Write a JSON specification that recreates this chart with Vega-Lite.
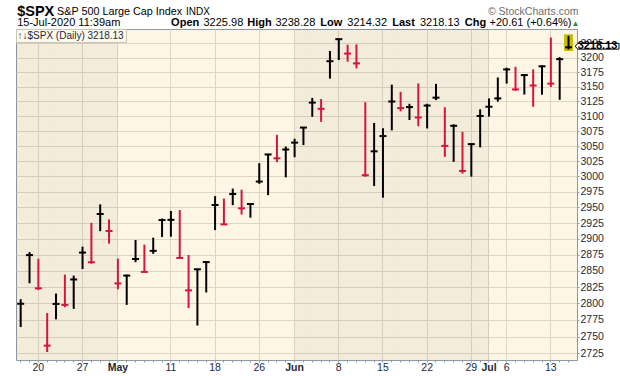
{
  "$schema": "https://vega.github.io/schema/vega-lite/v6.json",
  "width": 561,
  "height": 331,
  "autosize": {"type": "none"},
  "padding": {"left": 16, "top": 29, "right": 43, "bottom": 16},
  "background": "#ffffff",
  "config": {
    "view": {"fill": "#fdf6e4", "stroke": "#8c99a4", "strokeWidth": 1},
    "font": "Liberation Sans"
  },
  "data": {
    "values": [
      {"date": "2020-04-16", "month": "Apr", "high": 2806.51, "low": 2764.32, "close": 2799.55, "dir": "up"},
      {"date": "2020-04-17", "month": "Apr", "high": 2879.22, "low": 2830.88, "close": 2874.56, "dir": "up"},
      {"date": "2020-04-20", "month": "Apr", "high": 2868.98, "low": 2820.43, "close": 2823.16, "dir": "down"},
      {"date": "2020-04-21", "month": "Apr", "high": 2785.54, "low": 2727.10, "close": 2736.56, "dir": "down"},
      {"date": "2020-04-22", "month": "Apr", "high": 2815.10, "low": 2775.95, "close": 2799.31, "dir": "up"},
      {"date": "2020-04-23", "month": "Apr", "high": 2844.24, "low": 2794.26, "close": 2797.80, "dir": "down"},
      {"date": "2020-04-24", "month": "Apr", "high": 2842.71, "low": 2791.76, "close": 2836.74, "dir": "up"},
      {"date": "2020-04-27", "month": "Apr", "high": 2887.72, "low": 2852.89, "close": 2878.48, "dir": "up"},
      {"date": "2020-04-28", "month": "Apr", "high": 2925.39, "low": 2861.29, "close": 2863.39, "dir": "down"},
      {"date": "2020-04-29", "month": "Apr", "high": 2954.86, "low": 2912.16, "close": 2939.51, "dir": "up"},
      {"date": "2020-04-30", "month": "Apr", "high": 2930.91, "low": 2892.47, "close": 2912.43, "dir": "down"},
      {"date": "2020-05-01", "month": "May", "high": 2869.09, "low": 2821.61, "close": 2830.71, "dir": "down"},
      {"date": "2020-05-04", "month": "May", "high": 2844.24, "low": 2797.85, "close": 2842.74, "dir": "up"},
      {"date": "2020-05-05", "month": "May", "high": 2898.23, "low": 2863.55, "close": 2868.44, "dir": "up"},
      {"date": "2020-05-06", "month": "May", "high": 2891.11, "low": 2847.65, "close": 2848.42, "dir": "down"},
      {"date": "2020-05-07", "month": "May", "high": 2901.92, "low": 2876.48, "close": 2881.19, "dir": "up"},
      {"date": "2020-05-08", "month": "May", "high": 2932.16, "low": 2902.88, "close": 2929.80, "dir": "up"},
      {"date": "2020-05-11", "month": "May", "high": 2944.25, "low": 2903.44, "close": 2930.19, "dir": "up"},
      {"date": "2020-05-12", "month": "May", "high": 2945.82, "low": 2869.59, "close": 2870.12, "dir": "down"},
      {"date": "2020-05-13", "month": "May", "high": 2874.68, "low": 2793.15, "close": 2820.00, "dir": "down"},
      {"date": "2020-05-14", "month": "May", "high": 2852.80, "low": 2766.64, "close": 2852.50, "dir": "up"},
      {"date": "2020-05-15", "month": "May", "high": 2865.01, "low": 2816.78, "close": 2863.70, "dir": "up"},
      {"date": "2020-05-18", "month": "May", "high": 2968.09, "low": 2913.86, "close": 2953.91, "dir": "up"},
      {"date": "2020-05-19", "month": "May", "high": 2964.21, "low": 2922.35, "close": 2922.94, "dir": "down"},
      {"date": "2020-05-20", "month": "May", "high": 2980.29, "low": 2953.63, "close": 2971.61, "dir": "up"},
      {"date": "2020-05-21", "month": "May", "high": 2978.50, "low": 2938.57, "close": 2948.51, "dir": "down"},
      {"date": "2020-05-22", "month": "May", "high": 2956.76, "low": 2933.59, "close": 2955.45, "dir": "up"},
      {"date": "2020-05-26", "month": "May", "high": 3021.72, "low": 2988.17, "close": 2991.77, "dir": "up"},
      {"date": "2020-05-27", "month": "May", "high": 3036.25, "low": 2969.75, "close": 3036.13, "dir": "up"},
      {"date": "2020-05-28", "month": "May", "high": 3068.67, "low": 3023.40, "close": 3029.73, "dir": "down"},
      {"date": "2020-05-29", "month": "May", "high": 3049.17, "low": 2998.61, "close": 3044.31, "dir": "up"},
      {"date": "2020-06-01", "month": "Jun", "high": 3062.18, "low": 3031.54, "close": 3055.73, "dir": "up"},
      {"date": "2020-06-02", "month": "Jun", "high": 3081.07, "low": 3051.64, "close": 3080.82, "dir": "up"},
      {"date": "2020-06-03", "month": "Jun", "high": 3130.94, "low": 3098.90, "close": 3122.87, "dir": "up"},
      {"date": "2020-06-04", "month": "Jun", "high": 3128.91, "low": 3090.41, "close": 3112.35, "dir": "down"},
      {"date": "2020-06-05", "month": "Jun", "high": 3211.72, "low": 3163.84, "close": 3193.93, "dir": "up"},
      {"date": "2020-06-08", "month": "Jun", "high": 3233.13, "low": 3196.00, "close": 3232.39, "dir": "up"},
      {"date": "2020-06-09", "month": "Jun", "high": 3222.71, "low": 3193.11, "close": 3207.18, "dir": "down"},
      {"date": "2020-06-10", "month": "Jun", "high": 3223.27, "low": 3181.49, "close": 3190.14, "dir": "down"},
      {"date": "2020-06-11", "month": "Jun", "high": 3123.53, "low": 2999.49, "close": 3002.10, "dir": "down"},
      {"date": "2020-06-12", "month": "Jun", "high": 3088.42, "low": 2984.47, "close": 3041.31, "dir": "up"},
      {"date": "2020-06-15", "month": "Jun", "high": 3079.76, "low": 2965.66, "close": 3066.59, "dir": "up"},
      {"date": "2020-06-16", "month": "Jun", "high": 3153.45, "low": 3076.06, "close": 3124.74, "dir": "up"},
      {"date": "2020-06-17", "month": "Jun", "high": 3141.16, "low": 3108.03, "close": 3113.49, "dir": "down"},
      {"date": "2020-06-18", "month": "Jun", "high": 3120.92, "low": 3093.51, "close": 3115.34, "dir": "up"},
      {"date": "2020-06-19", "month": "Jun", "high": 3155.53, "low": 3083.11, "close": 3097.74, "dir": "down"},
      {"date": "2020-06-22", "month": "Jun", "high": 3120.92, "low": 3079.39, "close": 3117.86, "dir": "up"},
      {"date": "2020-06-23", "month": "Jun", "high": 3154.90, "low": 3127.12, "close": 3131.29, "dir": "up"},
      {"date": "2020-06-24", "month": "Jun", "high": 3115.01, "low": 3032.13, "close": 3050.33, "dir": "down"},
      {"date": "2020-06-25", "month": "Jun", "high": 3086.25, "low": 3024.01, "close": 3083.76, "dir": "up"},
      {"date": "2020-06-26", "month": "Jun", "high": 3073.73, "low": 3004.63, "close": 3009.05, "dir": "down"},
      {"date": "2020-06-29", "month": "Jun", "high": 3053.89, "low": 2999.74, "close": 3053.24, "dir": "up"},
      {"date": "2020-06-30", "month": "Jun", "high": 3111.51, "low": 3047.83, "close": 3100.29, "dir": "up"},
      {"date": "2020-07-01", "month": "Jul", "high": 3130.01, "low": 3099.22, "close": 3115.86, "dir": "up"},
      {"date": "2020-07-02", "month": "Jul", "high": 3165.81, "low": 3124.52, "close": 3130.01, "dir": "up"},
      {"date": "2020-07-06", "month": "Jul", "high": 3182.59, "low": 3155.29, "close": 3179.72, "dir": "up"},
      {"date": "2020-07-07", "month": "Jul", "high": 3184.15, "low": 3142.93, "close": 3145.32, "dir": "down"},
      {"date": "2020-07-08", "month": "Jul", "high": 3171.80, "low": 3136.53, "close": 3169.94, "dir": "up"},
      {"date": "2020-07-09", "month": "Jul", "high": 3179.72, "low": 3115.70, "close": 3152.05, "dir": "down"},
      {"date": "2020-07-10", "month": "Jul", "high": 3186.82, "low": 3136.22, "close": 3185.04, "dir": "up"},
      {"date": "2020-07-13", "month": "Jul", "high": 3235.32, "low": 3149.43, "close": 3155.22, "dir": "down"},
      {"date": "2020-07-14", "month": "Jul", "high": 3200.95, "low": 3127.66, "close": 3197.52, "dir": "up"},
      {"date": "2020-07-15", "month": "Jul", "high": 3238.28, "low": 3214.32, "close": 3218.13, "dir": "up"}
    ]
  },
  "layer": [
    {
      "mark": {"type": "rect", "xOffset": 4.418, "clip": true},
      "encoding": {
        "x": {
          "field": "date", "type": "ordinal",
          "scale": {"paddingInner": 0, "paddingOuter": 0.245, "align": 0.061},
          "axis": {
            "orient": "bottom", "zindex": 0, "domain": false, "bandPosition": 0.5,
            "title": "▲", "titleX": 563, "titleY": -335, "titleAlign": "right", "titleBaseline": "alphabetic",
            "titleFont": "Liberation Sans", "titleFontSize": 8, "titleFontWeight": "normal", "titleColor": "#2f8f2f", "titleLimit": 1000,
            "labelExpr": "indexof(['2020-04-20','2020-04-27','2020-05-01','2020-05-11','2020-05-18','2020-05-26','2020-06-01','2020-06-08','2020-06-15','2020-06-22','2020-06-29','2020-07-01','2020-07-06','2020-07-13'], datum.value) < 0 ? '' : (slice(datum.value, 8) == '01' ? ['Apr','May','Jun','Jul'][toNumber(slice(datum.value, 5, 7)) - 4] : '' + toNumber(slice(datum.value, 8)))",
            "labelAngle": 0, "labelFont": "Liberation Sans", "labelFontSize": 10.5, "labelColor": "#1d2a38",
            "labelFontWeight": {"condition": {"test": "slice(datum.value, 8) == '01'", "value": "bold"}, "value": "normal"},
            "labelPadding": 0.5, "labelOverlap": false,
            "ticks": true, "tickSize": 2, "tickColor": "#8c99a4", "tickWidth": 1,
            "grid": true, "gridColor": "#ddd6c3", "gridWidth": 1,
            "gridOpacity": {"condition": {"test": "indexof(['2020-04-20','2020-04-27','2020-05-01','2020-05-11','2020-05-18','2020-05-26','2020-06-01','2020-06-08','2020-06-15','2020-06-22','2020-06-29','2020-07-01','2020-07-06','2020-07-13'], datum.value) >= 0", "value": 1}, "value": 0}
          }
        },
        "fill": {
          "field": "month", "type": "nominal",
          "scale": {"domain": ["Apr", "May", "Jun", "Jul"], "range": ["rgba(0,0,0,0.04)", "rgba(0,0,0,0)", "rgba(0,0,0,0.04)", "rgba(0,0,0,0)"]},
          "legend": {
            "title": "↑↓$SPX (Daily) 3218.13", "orient": "top-left", "offset": 0, "values": [],
            "padding": 1.5, "fillColor": "#fdf9ec", "strokeColor": "#cdc6b2", "cornerRadius": 0,
            "titleFont": "Liberation Sans", "titleFontSize": 10, "titleFontWeight": "normal", "titleColor": "#1d2a38",
            "titlePadding": 0, "zindex": 1
          }
        }
      }
    },
    {
      "transform": [{"filter": "datum.date == '2020-04-16'"}],
      "mark": {"type": "rect", "xOffset": -4.418, "clip": true},
      "encoding": {
        "x": {
          "field": "date", "type": "ordinal",
          "axis": {"orient": "top", "labels": false, "ticks": false, "domain": false, "grid": false,
            "title": "$SPX", "titleX": 0.7, "titleY": -14, "titleAlign": "left", "titleBaseline": "alphabetic",
            "titleFont": "Liberation Sans", "titleFontSize": 14.5, "titleFontWeight": "bold", "titleColor": "#000000", "titleLimit": 1000}
        },
        "fill": {"field": "month", "type": "nominal"}
      }
    },
    {
      "transform": [{"filter": "datum.date == '2020-07-15'"}],
      "mark": {"type": "bar", "width": 6, "color": "#c8be00", "stroke": "#c8be00", "strokeWidth": 3},
      "encoding": {
        "x": {
          "field": "date", "type": "ordinal",
          "axis": {"orient": "top", "labels": false, "ticks": false, "domain": false, "grid": false,
            "title": "S&P 500 Large Cap Index", "titleX": 40.5, "titleY": -14.5, "titleAlign": "left", "titleBaseline": "alphabetic",
            "titleFont": "Liberation Sans", "titleFontSize": 10.8, "titleFontWeight": "normal", "titleColor": "#000000", "titleLimit": 1000}
        },
        "y": {
          "field": "high", "type": "quantitative",
          "scale": {"type": "log", "domain": [2715.3, 3250.3], "nice": false},
          "axis": {"orient": "left", "labels": false, "ticks": false, "domain": false, "grid": false,
            "title": "INDX", "titleAngle": 0, "titleX": 169.5, "titleY": -14.5, "titleAlign": "left", "titleBaseline": "alphabetic",
            "titleFont": "Liberation Sans", "titleFontSize": 10, "titleFontWeight": "normal", "titleColor": "#000000", "titleLimit": 1000}
        },
        "y2": {"field": "low"}
      }
    },
    {
      "transform": [{"filter": "datum.dir == 'down'"}],
      "mark": {"type": "rule", "strokeWidth": 2, "color": "#d4163c"},
      "encoding": {
        "x": {
          "field": "date", "type": "ordinal",
          "axis": {"orient": "top", "labels": false, "ticks": false, "domain": false, "grid": false,
            "title": "© StockCharts.com", "titleX": 562, "titleY": -14.5, "titleAlign": "right", "titleBaseline": "alphabetic",
            "titleFont": "Liberation Sans", "titleFontSize": 10.5, "titleFontWeight": "normal", "titleColor": "#6e6e6e", "titleLimit": 1000}
        },
        "y": {
          "field": "low", "type": "quantitative",
          "scale": {"type": "log", "domain": [2715.3, 3250.3], "nice": false},
          "axis": {
            "orient": "right", "zindex": 0, "domain": false,
            "title": "+20.61 (+0.64%)", "titleAngle": 0, "titleX": -88, "titleY": -3.7, "titleAlign": "left", "titleBaseline": "alphabetic",
            "titleFont": "Liberation Sans", "titleFontSize": 11, "titleFontWeight": "normal", "titleColor": "#000000", "titleLimit": 1000,
            "values": [2725, 2750, 2775, 2800, 2825, 2850, 2875, 2900, 2925, 2950, 2975, 3000, 3025, 3050, 3075, 3100, 3125, 3150, 3175, 3200, 3225],
            "format": "d", "labelFont": "Liberation Sans", "labelFontSize": 10.5, "labelColor": "#1d2a38",
            "labelPadding": 1, "labelOverlap": false, "tickSize": 2, "tickColor": "#8c99a4",
            "grid": true, "gridColor": "#ddd6c3", "gridWidth": 1
          }
        },
        "y2": {"field": "high"}
      }
    },
    {
      "transform": [{"filter": "datum.dir == 'up'"}],
      "mark": {"type": "rule", "strokeWidth": 2, "color": "#000000"},
      "encoding": {
        "x": {
          "field": "date", "type": "ordinal",
          "axis": {"orient": "top", "labels": false, "ticks": false, "domain": false, "grid": false,
            "title": "15-Jul-2020 11:39am", "titleX": 0.7, "titleY": -3.5, "titleAlign": "left", "titleBaseline": "alphabetic",
            "titleFont": "Liberation Sans", "titleFontSize": 11, "titleFontWeight": "normal", "titleColor": "#000000", "titleLimit": 1000}
        },
        "y": {
          "field": "low", "type": "quantitative",
          "axis": {"orient": "left", "labels": false, "ticks": false, "domain": false, "grid": false,
            "title": "Open", "titleAngle": 0, "titleX": 154.6, "titleY": -3.7, "titleAlign": "left", "titleBaseline": "alphabetic",
            "titleFont": "Liberation Sans", "titleFontSize": 11, "titleFontWeight": "bold", "titleColor": "#000000", "titleLimit": 1000}
        },
        "y2": {"field": "high"}
      }
    },
    {
      "transform": [{"filter": "datum.dir == 'down'"}],
      "mark": {"type": "tick", "size": 7, "thickness": 2, "opacity": 1, "color": "#d4163c"},
      "encoding": {
        "x": {
          "field": "date", "type": "ordinal",
          "axis": {"orient": "top", "labels": false, "ticks": false, "domain": false, "grid": false,
            "title": "3225.98", "titleX": 187, "titleY": -3.7, "titleAlign": "left", "titleBaseline": "alphabetic",
            "titleFont": "Liberation Sans", "titleFontSize": 11, "titleFontWeight": "normal", "titleColor": "#000000", "titleLimit": 1000}
        },
        "y": {
          "field": "close", "type": "quantitative",
          "axis": {"orient": "left", "labels": false, "ticks": false, "domain": false, "grid": false,
            "title": "High", "titleAngle": 0, "titleX": 230.8, "titleY": -3.7, "titleAlign": "left", "titleBaseline": "alphabetic",
            "titleFont": "Liberation Sans", "titleFontSize": 11, "titleFontWeight": "bold", "titleColor": "#000000", "titleLimit": 1000}
        }
      }
    },
    {
      "transform": [{"filter": "datum.dir == 'up'"}],
      "mark": {"type": "tick", "size": 7, "thickness": 2, "opacity": 1, "color": "#000000"},
      "encoding": {
        "x": {
          "field": "date", "type": "ordinal",
          "axis": {"orient": "top", "labels": false, "ticks": false, "domain": false, "grid": false,
            "title": "3238.28", "titleX": 259, "titleY": -3.7, "titleAlign": "left", "titleBaseline": "alphabetic",
            "titleFont": "Liberation Sans", "titleFontSize": 11, "titleFontWeight": "normal", "titleColor": "#000000", "titleLimit": 1000}
        },
        "y": {
          "field": "close", "type": "quantitative",
          "axis": {"orient": "left", "labels": false, "ticks": false, "domain": false, "grid": false,
            "title": "Low", "titleAngle": 0, "titleX": 303.8, "titleY": -3.7, "titleAlign": "left", "titleBaseline": "alphabetic",
            "titleFont": "Liberation Sans", "titleFontSize": 11, "titleFontWeight": "bold", "titleColor": "#000000", "titleLimit": 1000}
        }
      }
    },
    {
      "transform": [{"filter": "datum.date == '2020-07-15'"}],
      "mark": {"type": "point", "shape": "M -1 0 L -0.864 -0.13 L 1 -0.13 L 1 0.13 L -0.864 0.13 Z", "size": 1936, "filled": true, "fill": "#ffffff", "stroke": "#000000", "strokeWidth": 1, "opacity": 1, "xOffset": 28.5, "yOffset": -1},
      "encoding": {
        "x": {
          "field": "date", "type": "ordinal",
          "axis": {"orient": "top", "labels": false, "ticks": false, "domain": false, "grid": false,
            "title": "3214.32", "titleX": 330.8, "titleY": -3.7, "titleAlign": "left", "titleBaseline": "alphabetic",
            "titleFont": "Liberation Sans", "titleFontSize": 11, "titleFontWeight": "normal", "titleColor": "#000000", "titleLimit": 1000}
        },
        "y": {
          "field": "close", "type": "quantitative",
          "axis": {"orient": "left", "labels": false, "ticks": false, "domain": false, "grid": false,
            "title": "Last", "titleAngle": 0, "titleX": 375.7, "titleY": -3.7, "titleAlign": "left", "titleBaseline": "alphabetic",
            "titleFont": "Liberation Sans", "titleFontSize": 11, "titleFontWeight": "bold", "titleColor": "#000000", "titleLimit": 1000}
        }
      }
    },
    {
      "transform": [{"filter": "datum.date == '2020-07-15'"}],
      "mark": {"type": "text", "font": "Liberation Sans", "fontWeight": "bold", "fontSize": 11, "xOffset": 29, "yOffset": -1, "align": "center", "baseline": "middle", "color": "#000000"},
      "encoding": {
        "x": {
          "field": "date", "type": "ordinal",
          "axis": {"orient": "top", "labels": false, "ticks": false, "domain": false, "grid": false,
            "title": "3218.13", "titleX": 403.4, "titleY": -3.7, "titleAlign": "left", "titleBaseline": "alphabetic",
            "titleFont": "Liberation Sans", "titleFontSize": 11, "titleFontWeight": "normal", "titleColor": "#000000", "titleLimit": 1000}
        },
        "y": {
          "field": "close", "type": "quantitative",
          "axis": {"orient": "left", "labels": false, "ticks": false, "domain": false, "grid": false,
            "title": "Chg", "titleAngle": 0, "titleX": 448.3, "titleY": -3.7, "titleAlign": "left", "titleBaseline": "alphabetic",
            "titleFont": "Liberation Sans", "titleFontSize": 11, "titleFontWeight": "bold", "titleColor": "#000000", "titleLimit": 1000}
        },
        "text": {"field": "close", "type": "quantitative", "format": ".2f"}
      }
    }
  ],
  "resolve": {"axis": {"x": "independent", "y": "independent"}}
}
